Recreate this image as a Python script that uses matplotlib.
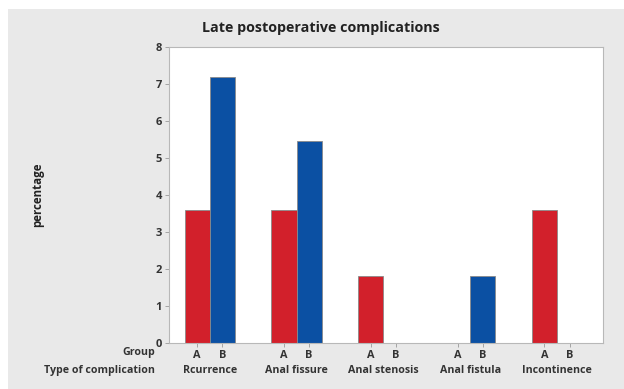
import numpy as np
import matplotlib.pyplot as plt
from matplotlib.patches import Rectangle

plt.rcParams['font.family'] = ['Open Sans', 'DejaVu Sans']

# dati
categories = ["Rcurrence", "Anal fissure", "Anal stenosis", "Anal fistula", "Incontinence"]
groups = ["A", "B"]
group_a = [3.6, 3.6, 1.8, 0.0, 3.6]
group_b = [7.2, 5.45, 0.0, 1.8, 0.0]
yticks = [0, 1, 2, 3, 4, 5, 6, 7, 8]

fig = plt.figure(figsize=(6.24, 3.89), dpi=100)
fig.patch.set_facecolor('white')
# sfondo grigio
fig.patches.append(Rectangle((8/624, 0), 1 - 8/624, 1 - 9/389, transform=fig.transFigure,
                             facecolor='#e9e9e9', edgecolor='none', zorder=-1))

ax = fig.add_axes([169/624, 1 - 343/389, (603 - 169)/624, (343 - 47)/389])
ax.set_facecolor('white')

x = np.arange(len(categories))
w = 0.29
ax.bar(x - w/2, group_a, width=w, color='#d2202b', edgecolor='#8a8a8a', linewidth=0.6, clip_on=False)
ax.bar(x + w/2, group_b, width=w, color='#0b50a3', edgecolor='#8a8a8a', linewidth=0.6, clip_on=False)

ax.set_xlim(-0.47, 4.53)
ax.set_ylim(0, 8)
ax.set_yticks(yticks)
ax.set_yticklabels([str(t) for t in yticks], fontsize=8, fontweight='bold', color='#333333')
ax.tick_params(axis='y', length=3, width=0.6, color='#999999', pad=2)

xt = np.concatenate([x - w/2, x + w/2])
ax.set_xticks(xt)
ax.set_xticklabels([groups[0]] * len(x) + [groups[1]] * len(x), fontsize=7.8,
                   fontweight='bold', color='#333333')
ax.tick_params(axis='x', length=3, width=0.6, color='#999999', pad=2)

for s in ax.spines.values():
    s.set_color('#b8b8b8')
    s.set_linewidth(0.8)

# nomi categorie
for xi, c in zip(x, categories):
    ax.text(xi, -0.74, c, ha='center', va='center', fontsize=7.7, fontweight='bold',
            color='#333333', transform=ax.transData, clip_on=False)

fig.text(155/624, 1 - 353/389, "Group", ha='right', va='center', fontsize=7.7,
         fontweight='bold', color='#333333')
fig.text(155/624, 1 - 370/389, "Type of complication", ha='right', va='center', fontsize=7.7,
         fontweight='bold', color='#333333')

fig.text(321/624, 1 - 28/389, "Late postoperative complications", ha='center', va='center',
         fontsize=10.3, fontweight='bold', color='#222222')
fig.text(38/624, 1 - 195/389, "percentage", ha='center', va='center', rotation=90,
         fontsize=8.3, fontweight='bold', color='#222222')

fig.savefig('out.png', dpi=100)
